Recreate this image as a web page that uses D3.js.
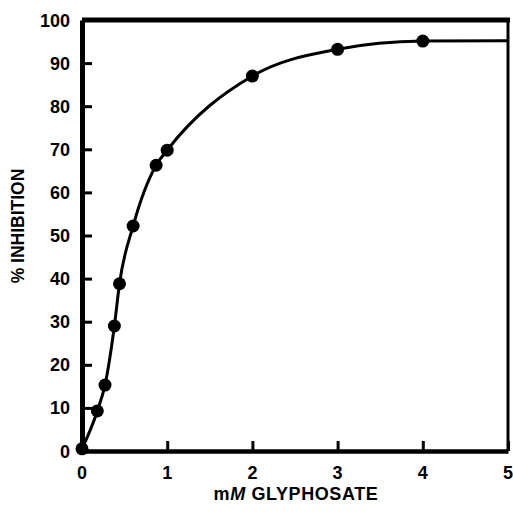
<!DOCTYPE html>
<html>
<head>
<meta charset="utf-8">
<script src="https://cdn.jsdelivr.net/npm/d3@7"></script>
<style>
  body { margin: 0; background: #fff; }
  svg text { font-family: "Liberation Sans", Arial, sans-serif; font-weight: bold; fill: #000; }
</style>
</head>
<body>
<svg width="513" height="512"></svg>
<script>
// measured points (mM glyphosate, % inhibition)
var conc = [0, 0.18, 0.27, 0.38, 0.44, 0.6, 0.87, 1.0, 2.0, 3.0, 4.0];
var inhibition = [0.5, 9.3, 15.3, 29.0, 38.8, 52.2, 66.3, 69.8, 87.0, 93.2, 95.1];
// hand-drawn curve continues flat to the edge
var curveX = [0, 0.18, 0.27, 0.38, 0.44, 0.6, 0.87, 1.0, 2.0, 3.0, 4.0, 5.0];
var curveY = [0.5, 9.3, 15.3, 29.0, 38.8, 52.2, 66.3, 69.8, 87.0, 93.2, 95.1, 95.2];
var xTicks = [0, 1, 2, 3, 4, 5];
var yTicks = [0, 10, 20, 30, 40, 50, 60, 70, 80, 90, 100];

var svg = d3.select("svg");
var plotL = 82, plotR = 508, plotT = 20, plotB = 451;

var x = d3.scaleLinear().domain([0, 5]).range([plotL, plotR]);
var y = d3.scaleLinear().domain([0, 100]).range([plotB, plotT]);

// frame
svg.append("line").attr("x1", plotL).attr("x2", plotR + 2).attr("y1", plotT).attr("y2", plotT)
   .attr("stroke", "#000").attr("stroke-width", 5);
svg.append("line").attr("x1", plotR).attr("x2", plotR).attr("y1", plotT).attr("y2", plotB)
   .attr("stroke", "#000").attr("stroke-width", 3);

// axes, ticks pointing inward
var xAxis = svg.append("g")
   .attr("transform", "translate(0," + plotB + ")")
   .call(d3.axisTop(x).tickValues(xTicks).tickSize(10).tickSizeOuter(0).tickFormat(""));
xAxis.select(".domain").attr("stroke-width", 4.5);
xAxis.selectAll(".tick line").attr("stroke-width", 3);

var yAxis = svg.append("g")
   .attr("transform", "translate(" + plotL + ",0)")
   .call(d3.axisRight(y).tickValues(yTicks).tickSize(10).tickSizeOuter(0).tickFormat(""));
yAxis.select(".domain").attr("stroke-width", 5);
yAxis.selectAll(".tick line").attr("stroke-width", 3);

svg.selectAll(".xlab").data(xTicks).enter().append("text")
   .attr("x", function(d) { return x(d); })
   .attr("y", plotB + 28)
   .attr("text-anchor", "middle")
   .attr("font-size", "18px")
   .text(function(d) { return d; });

svg.selectAll(".ylab").data(yTicks).enter().append("text")
   .attr("x", plotL - 12)
   .attr("y", function(d) { return y(d) + 6.5; })
   .attr("text-anchor", "end")
   .attr("font-size", "18px")
   .text(function(d) { return d; });

// curve
var line = d3.line()
   .x(function(d) { return x(d[0]); })
   .y(function(d) { return y(d[1]); })
   .curve(d3.curveMonotoneX);
svg.append("path")
   .datum(d3.zip(curveX, curveY))
   .attr("d", line)
   .attr("fill", "none")
   .attr("stroke", "#000")
   .attr("stroke-width", 3);

svg.selectAll(".pt").data(d3.zip(conc, inhibition)).enter().append("circle")
   .attr("cx", function(d) { return x(d[0]); })
   .attr("cy", function(d) { return y(d[1]); })
   .attr("r", 6.5)
   .attr("fill", "#000");

// axis titles
var xt = svg.append("text")
   .attr("x", 296).attr("y", 500)
   .attr("text-anchor", "middle")
   .attr("font-size", "18px")
   .attr("letter-spacing", "0.6px");
xt.append("tspan").text("m");
xt.append("tspan").attr("font-style", "italic").text("M");
xt.append("tspan").text(" GLYPHOSATE");

svg.append("text")
   .attr("transform", "translate(24,226) rotate(-90)")
   .attr("text-anchor", "middle")
   .attr("font-size", "17.5px")
   .text("% INHIBITION");
</script>
</body>
</html>
